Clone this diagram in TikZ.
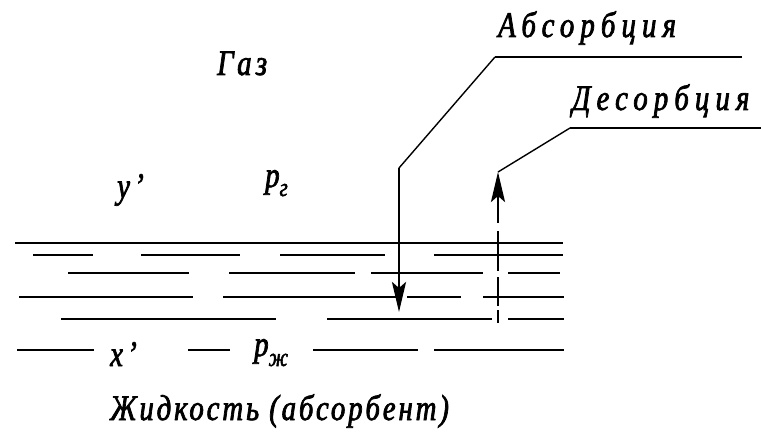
\documentclass[tikz,border=0pt]{standalone}
\usepackage{fontspec}
\setmainfont{Liberation Serif}
\usetikzlibrary{arrows.meta}

\begin{document}
\begin{tikzpicture}[
  x=1pt, y=-1pt,
  lbl/.style={inner sep=0pt, anchor=base west, font=\fontsize{36}{40}\selectfont\itshape\addfontfeature{FakeStretch=0.8, FakeBold=2, LetterSpace=12}},
  wide/.style={lbl, font=\fontsize{36}{40}\selectfont\itshape\addfontfeature{FakeStretch=0.8, FakeBold=2, LetterSpace=17}},
  tight/.style={lbl, font=\fontsize{36}{40}\selectfont\itshape\addfontfeature{FakeStretch=0.8, FakeBold=2, LetterSpace=8}},
  film/.style={line width=2.2pt},
  leader/.style={line width=1.4pt},
  shelf/.style={line width=2.8pt},
  shaft/.style={line width=2.8pt, -{Stealth[length=30pt, width=14pt, inset=6pt]}}
]
\useasboundingbox (0,0) rectangle (761,436);

\node[lbl] (gas) at (217,75) {Газ};
\node[lbl] (ygas) at (117,198) {y’};
\node[lbl] (pgas) at (265,187) {p\raisebox{-9pt}{\fontsize{26}{28}\selectfont г}};
\node[lbl] (xliq) at (110,366) {x’};
\node[lbl] (pliq) at (254,356) {p\raisebox{-10pt}{\fontsize{26}{28}\selectfont ж}};
\node[tight] (liquid) at (110,420) {Жидкость (абсорбент)};
\node[wide] (absorb) at (498,37) {Абсорбция};
\node[wide] (desorb) at (572,110) {Десорбция};

\draw[film] (15,243) -- (563,243);
\foreach \yy/\segs in {255/{33/93,141/240,280/385,434/563},
                       273/{68/189,229/355,371/483,508/560},
                       297/{19/193,223/398,407/461,483/564},
                       319/{61/276,327/492,508/564},
                       350/{17/94,188/230,313/418,434/564}}
  \foreach \a/\b in \segs
    \draw[film] (\a,\yy) -- (\b,\yy);

\coordinate (absR) at (742,57);
\coordinate (absL) at (495,57);
\coordinate (absK) at (399,168);
\coordinate (absTip) at (399,312);
\coordinate (desR) at (761,128);
\coordinate (desL) at (570,128);
\coordinate (desTip) at (498,172);
\coordinate (desFoot) at (498,323);

\draw[shelf] (absR) -- (absL);
\draw[leader] (absL) -- (absK);
\draw[shaft] (absK) -- (absTip);
\draw[shelf] (desR) -- (desL);
\draw[leader] (desL) -- (desTip);
\draw[shaft, dash pattern=on 13pt off 4pt on 29pt off 6pt on 40pt off 8pt on 80pt off 0pt] (desFoot) -- (desTip);
\end{tikzpicture}
\end{document}
